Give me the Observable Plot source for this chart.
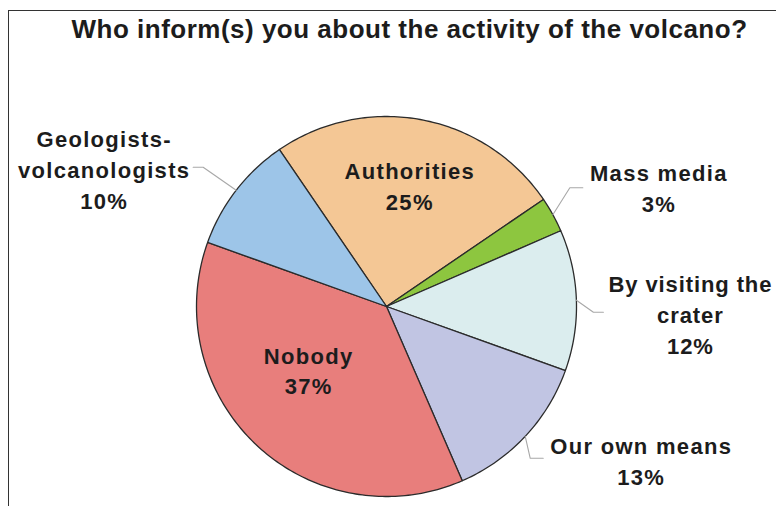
<!DOCTYPE html>
<html>
<head>
<meta charset="utf-8">
<script src="https://cdn.jsdelivr.net/npm/d3@7"></script>
<script src="https://cdn.jsdelivr.net/npm/@observablehq/plot@0.6"></script>
<style>
  html, body { margin: 0; padding: 0; background: #fff; overflow: hidden; }
  #wrap { position: relative; width: 776px; height: 506px; }
  #frame { position: absolute; left: 8px; top: 10px; width: 820px; height: 600px;
           border: 1.5px solid #333; pointer-events: none; }
  [aria-label="slice-labels"] { letter-spacing: 1.3px; }
  [aria-label="tight-label"] { letter-spacing: 0.9px; }
  [aria-label="title"] { letter-spacing: 0.5px; }
</style>
</head>
<body>
<div id="wrap"><div id="chart"></div><div id="frame"></div></div>
<script>
// ---- data ----
const categories = ["Authorities", "Mass media", "By visiting the crater", "Our own means", "Nobody", "Geologists-volcanologists"];
const labelLines = ["Authorities", "Mass media", "By visiting the\ncrater", "Our own means", "Nobody", "Geologists-\nvolcanologists"];
const percents = [25, 3, 12, 13, 37, 10];
const colors = ["#F4C795", "#8DC63F", "#DBEDEE", "#C1C5E3", "#E87E7C", "#9DC5E8"];
const title = "Who inform(s) you about the activity of the volcano?";

// ---- layout (px) ----
const W = 776, H = 506, CX = 386, CY = 306, R = 190;
const startDeg = -34.3;
// offsets relative to the slice's edge point at its mid angle
const layout = {
  "Authorities":               {label: [-12, 65]},
  "Mass media":                {label: [106, -28], elbow: [17, -27], h: 13},
  "By visiting the crater":    {label: [114, 13],  elbow: [17, 12],  h: 10},
  "Our own means":             {label: [116, 23],  elbow: [5, 22],   h: 13},
  "Nobody":                    {label: [52, -76]},
  "Geologists-volcanologists": {label: [-132, -22], elbow: [-33, -23], h: -10}
};

const rad = d => d * Math.PI / 180;
const arcs = d3.pie().sort(null).value(d => d)
  .startAngle(rad(startDeg)).endAngle(rad(startDeg) + 2 * Math.PI)(percents);

// slice polygons in unit-circle coordinates (y up)
const slicePts = [];
arcs.forEach((a, i) => {
  const cat = categories[i];
  slicePts.push({cat, x: 0, y: 0});
  const n = Math.max(4, Math.ceil((a.endAngle - a.startAngle) / rad(1)));
  for (let k = 0; k <= n; k++) {
    const t = a.startAngle + (a.endAngle - a.startAngle) * k / n;
    slicePts.push({cat, x: Math.sin(t), y: Math.cos(t)});
  }
  slicePts.push({cat, x: 0, y: 0});
});

const labels = [], leaders = [];
arcs.forEach((a, i) => {
  const cat = categories[i];
  const mid = (a.startAngle + a.endAngle) / 2;
  const ex = Math.sin(mid), ey = Math.cos(mid);
  const L = layout[cat];
  labels.push({cat, text: labelLines[i] + "\n" + percents[i] + "%",
               x: ex + L.label[0] / R, y: ey - L.label[1] / R});
  if (L.elbow) {
    const bx = ex + L.elbow[0] / R, by = ey - L.elbow[1] / R;
    leaders.push({cat, x: ex, y: ey}, {cat, x: bx, y: by}, {cat, x: bx + L.h / R, y: by});
  }
});

const chart = Plot.plot({
  width: W, height: H,
  marginLeft: 0, marginRight: 0, marginTop: 0, marginBottom: 0,
  x: {domain: [-CX / R, (W - CX) / R], axis: null},
  y: {domain: [-(H - CY) / R, CY / R], axis: null},
  color: {domain: categories, range: colors},
  style: {fontFamily: "'Liberation Sans', Arial, sans-serif", background: "transparent"},
  marks: [
    Plot.line(slicePts, {x: "x", y: "y", z: "cat", fill: "cat", stroke: "#2b2b2b", strokeWidth: 1.3, curve: "linear"}),
    Plot.line(leaders, {x: "x", y: "y", z: "cat", stroke: "#a8a8a8", strokeWidth: 1.1}),
    Plot.text(labels, {x: "x", y: "y", text: "text", fontSize: 22, fontWeight: "bold", fill: "#1c1c1c",
                       lineHeight: 1.4,
                       ariaLabel: d => d.cat === "By visiting the crater" ? "tight-label" : "slice-labels"}),
    Plot.text([title], {frameAnchor: "top", lineAnchor: "middle", text: d => d, dx: 21, dy: 29, fontSize: 26,
                        fontWeight: "bold", fill: "#1c1c1c", ariaLabel: () => "title"})
  ]
});
document.getElementById("chart").appendChild(chart);
</script>
</body>
</html>
